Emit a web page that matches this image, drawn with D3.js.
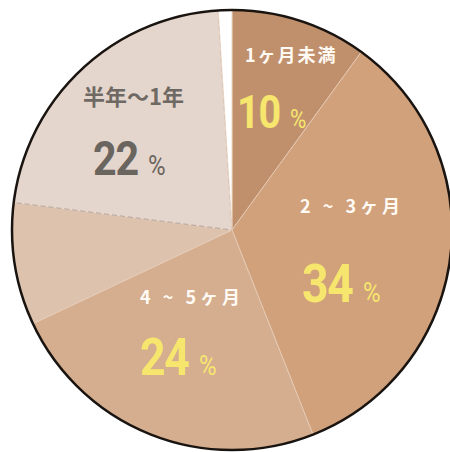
<!DOCTYPE html>
<html>
<head>
<meta charset="utf-8">
<script src="https://cdn.jsdelivr.net/npm/d3@7"></script>
<style>
  body { margin: 0; background: #fff; overflow: hidden; }
  svg { display: block; }
</style>
</head>
<body>
<div id="chart"></div>
<script>
// slices clockwise from 12 o'clock
var categories = ["1ヶ月未満", "2 ~ 3ヶ月", "4 ~ 5ヶ月", "", "半年～1年", ""];
var values = [10, 34, 24, 9, 22, 1];
var pctLabels = ["10", "34", "24", "", "22", ""];
var colors = ["#c0906d", "#d1a17c", "#d5ae8f", "#ddc2ae", "#e5d6cd", "#ffffff"];

var width = 450, height = 452;
var cx = 232, cy = 230, r = 220;

var svg = d3.select("#chart").append("svg")
  .attr("width", width)
  .attr("height", height);

var g = svg.append("g").attr("transform", "translate(" + cx + "," + cy + ")");

var pie = d3.pie().sort(null).value(function(d) { return d; });
var arc = d3.arc().innerRadius(0).outerRadius(r);
var arcs = pie(values);

g.selectAll("path.slice")
  .data(arcs)
  .enter()
  .append("path")
  .attr("class", "slice")
  .attr("d", arc)
  .attr("fill", function(d, i) { return colors[i]; })
  .attr("stroke", function(d, i) { return i == 4 ? "#a89a92" : "#e6cdb9"; })
  .attr("stroke-width", 0.8)
  .attr("stroke-dasharray", function(d, i) { return i == 4 ? "5,3" : null; });

// outline
g.append("circle")
  .attr("r", r)
  .attr("fill", "none")
  .attr("stroke", "#1a1411")
  .attr("stroke-width", 2.5);

// label spots (relative to centre): name, number
var spots = [
  { i: 0, nx: 13, ny: -168, px: 5, py: -102, sp: 2, nameCol: "#fffaf3", numCol: "#f6e66e", nameSize: 18, numSize: 46, pctSize: 26 },
  { i: 1, nx: 68, ny: -17, px: 70, py: 72, sp: 4, nameCol: "#fffaf3", numCol: "#f6e66e", nameSize: 18, numSize: 54, pctSize: 28 },
  { i: 2, nx: -92, ny: 74, px: -92, py: 145, sp: 4, nameCol: "#fffaf3", numCol: "#f6e66e", nameSize: 18, numSize: 52, pctSize: 28 },
  { i: 4, nx: -149, ny: -125, px: -139, py: -55, sp: 0, nameCol: "#6f6964", numCol: "#6b6560", nameSize: 22, numSize: 48, pctSize: 28 }
];

spots.forEach(function(s) {
  g.append("text")
    .attr("x", s.nx)
    .attr("y", s.ny)
    .attr("font-family", "'Noto Sans CJK JP', sans-serif")
    .attr("font-weight", 700)
    .attr("font-size", s.nameSize)
    .attr("letter-spacing", s.sp)
    .attr("fill", s.nameCol)
    .text(categories[s.i]);

  var num = g.append("g")
    .attr("transform", "translate(" + s.px + "," + s.py + ") scale(0.86,1)");
  var t = num.append("text")
    .attr("x", 0)
    .attr("y", 0)
    .attr("font-family", "Roboto, sans-serif")
    .attr("font-weight", 700)
    .attr("font-size", s.numSize)
    .attr("letter-spacing", -1.5)
    .attr("fill", s.numCol)
    .text(pctLabels[s.i]);
  var w = t.node().getComputedTextLength();
  num.append("text")
    .attr("x", w + 12)
    .attr("y", 0)
    .attr("font-family", "Roboto, sans-serif")
    .attr("font-weight", 400)
    .attr("font-size", s.pctSize)
    .attr("fill", s.numCol)
    .text("%");
});
</script>
</body>
</html>
